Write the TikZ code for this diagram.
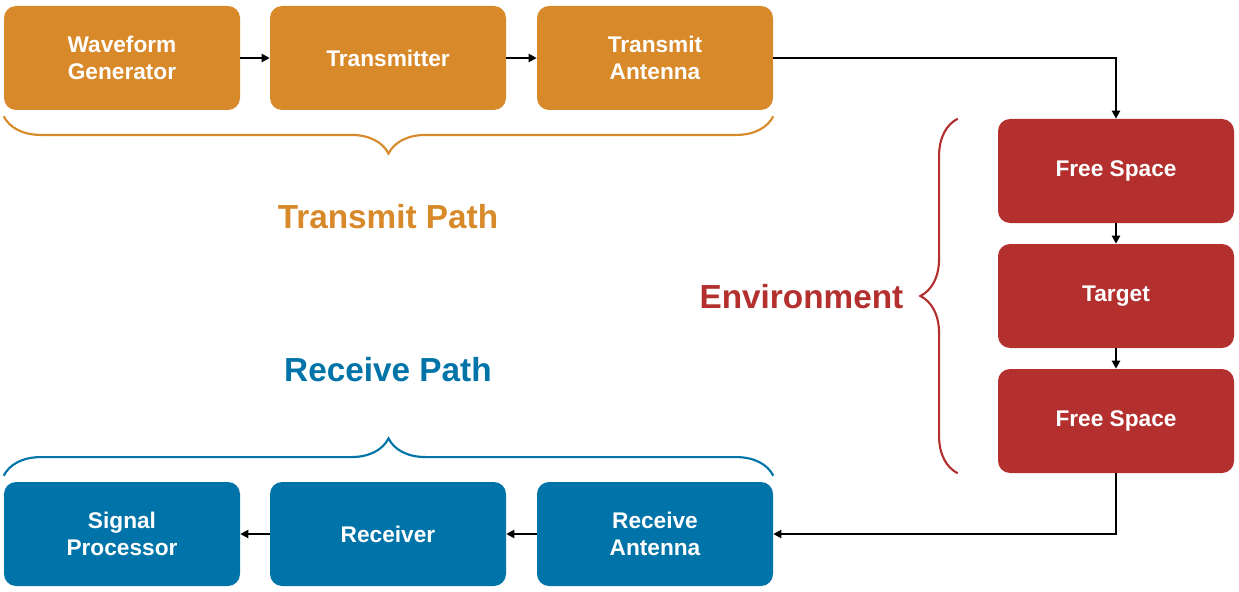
\documentclass[tikz,border=0pt]{standalone}
\usepackage{fontspec}
\setmainfont{Liberation Sans}
\usetikzlibrary{positioning,decorations.pathreplacing,arrows.meta}
\definecolor{txorange}{HTML}{D8892A}
\definecolor{envred}{HTML}{B3302E}
\definecolor{rxblue}{HTML}{0074A8}
\tikzset{
  block/.style={rectangle, rounded corners=9pt, minimum width=177pt, minimum height=78pt,
    text=white, font=\fontsize{17}{20}\selectfont\bfseries, align=center, inner sep=2pt},
  txbox/.style={block, fill=txorange},
  envbox/.style={block, fill=envred},
  rxbox/.style={block, fill=rxblue},
  flow/.style={line width=1.6pt, -{Triangle[length=6pt,width=6pt]}},
  grp/.style={line width=1.6pt, decorate, decoration={brace, amplitude=28pt}},
  grplabel/.style={font=\fontsize{25}{30}\selectfont\bfseries}
}
\begin{document}
\begin{tikzpicture}[x=0.75pt,y=-0.75pt]
\useasboundingbox (0,0) rectangle (1239,592);
% transmit path
\node [txbox] (wave) at (122,58) {Waveform\\Generator};
\node [txbox] (tx) at (388,58) {Transmitter};
\node [txbox] (txant) at (655,58) {Transmit\\Antenna};
% environment
\node [envbox] (fs1) at (1116,171) {Free Space};
\node [envbox] (tgt) at (1116,296) {Target};
\node [envbox] (fs2) at (1116,421) {Free Space};
% receive path
\node [rxbox] (sig) at (122,534) {Signal\\Processor};
\node [rxbox] (rx) at (388,534) {Receiver};
\node [rxbox] (rxant) at (655,534) {Receive\\Antenna};
% connectors
\draw [flow] (wave) -- (tx);
\draw [flow] (tx) -- (txant);
\draw [flow] (txant.east) -| (fs1.north);
\draw [flow] (fs1) -- (tgt);
\draw [flow] (tgt) -- (fs2);
\draw [flow] (fs2.south) |- (rxant.east);
\draw [flow] (rxant) -- (rx);
\draw [flow] (rx) -- (sig);
% groups
\draw [grp, txorange] (txant.south east) ++(0,6) coordinate (tb1) -- (wave.south west |- tb1) coordinate (tb2);
\node [grplabel, text=txorange] (txlbl) at (388,217) {Transmit Path};
\draw [grp, rxblue] (sig.north west) ++(0,-6) coordinate (rb1) -- (rxant.north east |- rb1) coordinate (rb2);
\node [grplabel, text=rxblue] (rxlbl) at (388,370) {Receive Path};
\draw [grp, envred] (fs2.south west) ++(-40,0) coordinate (eb1) -- (fs1.north west -| eb1) coordinate (eb2);
\node [grplabel, text=envred, anchor=east] (envlbl) at (908,297) {Environment};
\end{tikzpicture}
\end{document}
